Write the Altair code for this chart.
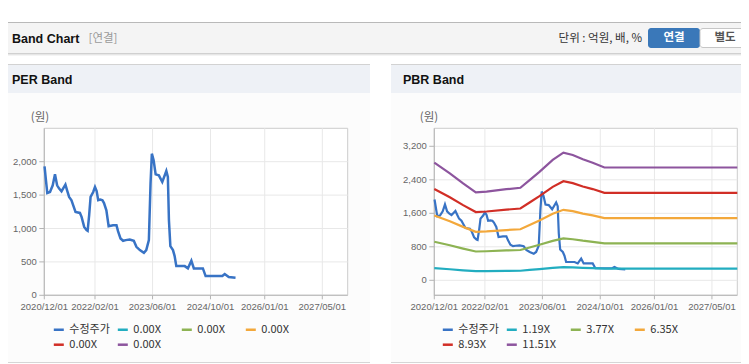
import json
import altair as alt
import pandas as pd

# ---------------- data ----------------
price_dates = [
    "2020-12-03", "2020-12-15", "2020-12-26", "2021-01-18", "2021-02-10", "2021-03-01",
    "2021-03-19", "2021-04-05", "2021-04-25", "2021-05-08", "2021-05-28", "2021-06-11",
    "2021-06-28", "2021-07-18", "2021-08-01", "2021-08-21", "2021-09-27", "2021-10-11",
    "2021-11-02", "2021-11-22", "2021-12-01", "2021-12-14", "2021-12-26", "2022-01-17",
    "2022-02-01", "2022-02-15", "2022-02-28", "2022-03-18", "2022-04-05", "2022-04-18",
    "2022-05-08", "2022-05-27", "2022-07-03", "2022-08-01", "2022-08-14", "2022-09-04",
    "2022-09-26", "2022-10-18", "2022-11-21", "2022-12-25", "2023-01-16", "2023-02-14",
    "2023-03-20", "2023-04-09", "2023-05-01", "2023-05-15", "2023-05-26", "2023-06-10",
    "2023-06-27", "2023-07-24", "2023-08-22", "2023-09-25", "2023-10-08", "2023-10-17",
    "2023-10-29", "2023-11-20", "2023-12-04", "2023-12-18", "2024-02-27", "2024-03-25",
    "2024-04-23", "2024-05-14", "2024-07-29", "2024-08-21", "2025-01-09", "2025-01-29",
    "2025-03-04", "2025-04-30",
]
price_values = [
    1930, 1720, 1532, 1547, 1647, 1811,
    1647, 1597, 1557, 1597, 1657, 1572,
    1472, 1423, 1350, 1248, 1233, 1174,
    1024, 975, 965, 1200, 1472, 1547,
    1622, 1560, 1423, 1433, 1423, 1380,
    1273, 1035, 1050, 1050, 960, 851,
    816, 826, 836, 816, 726, 676,
    636, 676, 826, 1672, 2120, 2020,
    1811, 1796, 1696, 1860, 1771, 1124,
    736, 676, 587, 437, 437, 403,
    517, 403, 403, 288, 288, 318,
    273, 263,
]
bps_dates = [
    "2020-12-01", "2021-04-11", "2021-08-01", "2021-11-16", "2022-02-15", "2022-08-01",
    "2022-11-27", "2023-02-13", "2023-05-07", "2023-08-27", "2023-11-25", "2024-02-12",
    "2024-05-07", "2024-07-29", "2024-11-05", "2027-12-01",
]
bps_values = [244, 222, 201, 182.5, 184, 189, 192, 208, 225, 250, 265, 260, 251, 244, 234, 234]
band_multiples = [1.19, 3.77, 6.35, 8.93, 11.51]

pbr_series = ["수정주가", "1.19X", "3.77X", "6.35X", "8.93X", "11.51X"]
per_series = ["수정주가", "0.00X", "0.00X", "0.00X", "0.00X", "0.00X"]
per_keys = ["s0", "s1", "s2", "s3", "s4", "s5"]
series_colors = ["#3873c5", "#22adc0", "#8db353", "#f3a83b", "#d12e26", "#8d559e"]

x_domain = ["2020-12-01", "2027-12-01"]
x_tick_dates = ["2020-12-01", "2022-02-01", "2023-06-01", "2024-10-01", "2026-01-01", "2027-05-01"]
x_tick_labels = ["2020/12/01", "2022/02/01", "2023/06/01", "2024/10/01", "2026/01/01", "2027/05/01"]
per_y_domain = [0, 2500]
per_y_ticks = [0, 500, 1000, 1500, 2000]
per_y_labels = ["0", "500", "1,000", "1,500", "2,000"]
pbr_y_domain = [-358, 3630]
pbr_y_ticks = [0, 800, 1600, 2400, 3200]
pbr_y_labels = ["0", "800", "1,600", "2,400", "3,200"]

# ---------------- layout helpers ----------------
OFF = 8  # page margin


def px(v):
    return v - OFF


TOP = px(128.3)
BOT = px(295.3)
LEFT_X = (px(44.3), px(347.7))
RIGHT_X = (px(434.3), px(737.3))

KFONT = "Noto Sans CJK KR"
one = pd.DataFrame({"k": [0]})


def dt(s):
    y, m, d = map(int, s.split("-"))
    return alt.DateTime(year=y, month=m, date=d, utc=True)


def rect(x, x2, y, y2, **kw):
    return alt.Chart(one).mark_rect(**kw).encode(
        x=alt.value(x), x2=alt.value(x2), y=alt.value(y), y2=alt.value(y2)
    )


def label(x, y, text, **kw):
    base = dict(baseline="middle", align="left")
    base.update(kw)
    return alt.Chart(one).mark_text(**base).encode(
        x=alt.value(x), y=alt.value(y), text=alt.value(text)
    )


# ---------------- decorations ----------------
W_L, W_R = px(0), px(749)
decor = [
    rect(W_L, W_R, px(22), px(23), fill="#b9b9b9"),
    rect(W_L, W_R, px(23), px(53), fill="#f4f4f4"),
    rect(W_L, W_R, px(53), px(54), fill="#d0d0d0"),
    rect(W_L, W_R, px(54), px(55), fill="#e6e6e6"),
    rect(W_L, W_R, px(55), px(56), fill="#f4f4f4"),
    label(px(12), px(38.5), "Band Chart", font="Liberation Sans", fontSize=12.5,
          fontWeight="bold", color="#111111"),
    label(px(88.5), px(38.5), "[연결]", font=KFONT, fontSize=11.5, color="#9a9a9a"),
    label(px(642), px(38.5), "단위 : 억원, 배, %", font=KFONT, fontSize=11.5,
          color="#333333", align="right"),
    rect(px(648), px(700), px(28), px(48), fill="#3a78b9", cornerRadius=3),
    rect(px(700), px(752), px(28.5), px(47.5), fill="white", stroke="#c6c6c6",
         strokeWidth=1, cornerRadius=3),
    label(px(674), px(38), "연결", font=KFONT, fontSize=11.5, fontWeight="bold",
          color="white", align="center"),
    label(px(725), px(38), "별도", font=KFONT, fontSize=11.5, fontWeight="bold",
          color="#555555", align="center"),
]
for (a, b, name) in [(px(0), px(370), "PER Band"), (px(391), px(749), "PBR Band")]:
    decor += [
        rect(a, b, px(64), px(65), fill="#d2d2d2"),
        rect(a, b, px(65), px(93), fill="#eef1f6"),
        rect(a, b, px(93), px(362), fill="#fcfcfc"),
        rect(a, b, px(362), px(363), fill="#d6d6d6"),
        label(a + 12 if a > 0 else px(12), px(80.3), name, font="Liberation Sans",
              fontSize=12.5, fontWeight="bold", color="#111111"),
    ]


# ---------------- panels ----------------
def panel(xr, ydom, yticks, ylabels, df, domain, label_expr, legend_x, unit_x, lw):
    xs = alt.Scale(domain=[dt(d) for d in x_domain], range=list(xr), nice=False)
    ys = alt.Scale(domain=ydom, range=[BOT, TOP], nice=False, zero=False)
    xt = pd.DataFrame({"date": x_tick_dates, "label": x_tick_labels})
    yt = pd.DataFrame({"v": yticks, "label": ylabels})
    X = alt.X("date:T", scale=xs, axis=None)
    Y = alt.Y("v:Q", scale=ys, axis=None)
    legend_kw = dict(
        orient="none", legendX=legend_x, legendY=px(323), direction="horizontal",
        columns=4, gridAlign="all", symbolType="stroke", symbolSize=100,
        symbolStrokeWidth=2.5, labelFont=KFONT, labelFontSize=11, labelColor="#333333",
        labelOffset=4, columnPadding=2, rowPadding=3.2, padding=0, title=None,
    )
    if label_expr:
        legend_kw["labelExpr"] = label_expr
    layers = [
        rect(xr[0], xr[1], TOP, BOT, fill="white", stroke="#cccccc", strokeWidth=1),
        alt.Chart(xt).mark_rule(color="#e8e8e8", strokeWidth=1).encode(
            x=X, y=alt.value(TOP), y2=alt.value(BOT)),
        alt.Chart(yt).mark_rule(color="#e8e8e8", strokeWidth=1).encode(
            y=Y, x=alt.value(xr[0]), x2=alt.value(xr[1])),
        rect(xr[0] - 0.5, xr[0] + 0.5, TOP, BOT + 0.5, fill="#b4b4b4"),
        rect(xr[0], xr[1], BOT - 0.5, BOT + 0.5, fill="#b4b4b4"),
        alt.Chart(xt).mark_rule(color="#b4b4b4", strokeWidth=1).encode(
            x=X, y=alt.value(BOT), y2=alt.value(BOT + 4)),
        alt.Chart(yt).mark_rule(color="#b4b4b4", strokeWidth=1).encode(
            y=Y, x=alt.value(xr[0] - 5), x2=alt.value(xr[0])),
        alt.Chart(xt).mark_text(align="center", baseline="middle", font="Liberation Sans",
                                fontSize=9.5, color="#666666").encode(
            x=X, y=alt.value(BOT + 11.5), text="label:N"),
        alt.Chart(yt).mark_text(align="right", baseline="middle", font="Liberation Sans",
                                fontSize=9.5, color="#666666").encode(
            y=Y, x=alt.value(xr[0] - 7.5), text="label:N"),
        label(unit_x, px(118.3), "(원)", font=KFONT, fontSize=11.5, color="#666666",
              align="center"),
        alt.Chart(df).mark_line(strokeWidth=lw).encode(
            x=alt.X("date:T", scale=xs, axis=None),
            y=alt.Y("value:Q", scale=ys, axis=None),
            color=alt.Color("series:N", scale=alt.Scale(domain=domain, range=series_colors),
                            legend=alt.Legend(**legend_kw)),
        ),
    ]
    return layers


# PER panel: only the price series has values (bands are all 0.00X)
per_df = pd.DataFrame({"date": price_dates, "value": price_values, "series": per_keys[0]})
per_expr = "{}[indexof({}, datum.label)]".format(
    json.dumps(per_series, ensure_ascii=False), json.dumps(per_keys))

# PBR panel: price + bands (BPS x multiple)
rows = [{"date": d, "value": v, "series": pbr_series[0]} for d, v in zip(price_dates, price_values)]
for name, mult in zip(pbr_series[1:], band_multiples):
    rows += [{"date": d, "value": b * mult, "series": name} for d, b in zip(bps_dates, bps_values)]
pbr_df = pd.DataFrame(rows)

left = panel(LEFT_X, per_y_domain, per_y_ticks, per_y_labels, per_df, per_keys, per_expr,
             px(52.3), px(40), 2.5)
right = panel(RIGHT_X, pbr_y_domain, pbr_y_ticks, pbr_y_labels, pbr_df, pbr_series, None,
              px(441.3), px(429), 2.2)

chart = (
    alt.layer(*decor, *left, *right)
    .resolve_scale(x="independent", y="independent", color="independent")
    .properties(width=733, height=356, autosize=alt.AutoSizeParams(type="none"),
                padding=0, background="white")
    .configure_view(strokeWidth=0)
)

chart.save("out.html", embed_options={"renderer": "svg", "actions": False})
